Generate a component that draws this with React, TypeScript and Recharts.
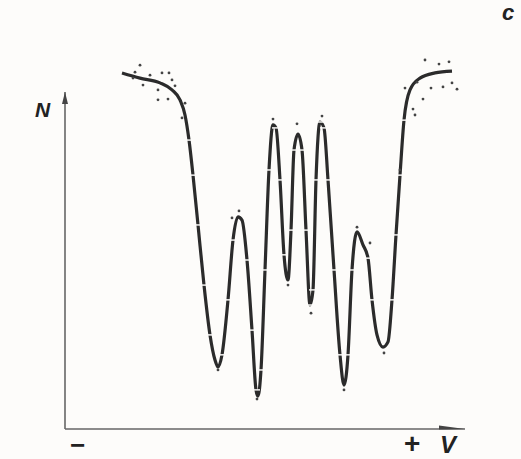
import { ComposedChart, Line, Scatter, XAxis, YAxis, ReferenceLine } from 'recharts';

// fitted curve: velocity (arbitrary units, -10..10) vs counts N (0..100)
const velocity = [
  -7.15, -6.25, -5.25, -4.65, -4.25, -4.0, -3.8, -3.6, -3.35, -3.05, -2.75, -2.5, -2.35, -2.15, -1.85, -1.6,
  -1.35, -1.15, -0.9, -0.65, -0.45, -0.35, -0.2, 0, 0.2, 0.4, 0.55, 0.75, 0.95, 1.15, 1.3, 1.45, 1.65, 1.85,
  2.05, 2.25, 2.4, 2.55, 2.75, 2.95, 3.15, 3.45, 3.75, 3.95, 4.15, 4.35, 4.6, 4.9, 5.15, 5.35, 5.6, 5.9, 6.15,
  6.35, 6.55, 6.75, 6.95, 7.25, 7.75, 8.5, 9.35,
];
const counts = [
  96.5, 95.1, 93.8, 91.9, 89.2, 85.1, 78.3, 68.8, 55.3, 39.0, 25.5, 18.7, 16.8, 20.1, 35.0, 51.2,
  57.5, 56.6, 45.8, 26.8, 10.6, 8.9, 16.0, 43.1, 70.2, 82.4, 81.6, 67.5, 47.2, 40.4, 53.9, 75.6, 79.9, 75.6,
  53.9, 33.6, 37.7, 67.5, 83.2, 81.6, 67.5, 43.1, 20.1, 11.9, 20.1, 43.1, 53.4, 49.9, 46.3, 35.0, 25.5, 22.2, 23.6,
  35.0, 52.6, 68.8, 83.7, 91.9, 95.1, 96.5, 97.0,
];

// measured points (scatter)
const pointV = [
  -6.25, -6.5, -6.6, -5.75, -5.15, -4.8, -6.1, -5.35, -4.65, -4.5, -5.35, -4.85, -4.15, -4.0,
  8.0, 8.7, 9.2, 7.6, 7.0, 8.3, 8.9, 9.6, 9.35, 7.9, 7.4, 7.5,
  0.4, 1.6, 2.85, -1.3, -1.65, 4.6, 5.25, 5.95, -0.4, 3.95, 2.3, 1.15, -2.35, 6.75,
];
const pointN = [
  98.6, 96.7, 95.1, 95.9, 96.5, 96.5, 93.2, 91.9, 94.6, 93.0, 89.2, 89.4, 84.3, 88.3,
  100, 98.9, 99.5, 94.0, 92.4, 92.4, 92.7, 92.1, 93.8, 89.4, 86.7, 85.1,
  84.0, 82.7, 84.8, 59.1, 57.2, 54.7, 50.4, 20.6, 8.1, 10.6, 31.4, 39.0, 16.0, 70.2,
];

const curve = velocity.map((v, i) => ({ v, n: counts[i] }));
const points = pointV.map((v, i) => ({ v, n: pointN[i] }));

const INK = '#2b2b2b';

function AxisArrow(props: any) {
  const { x1, y1, x2, y2, vertical } = props;
  const head = vertical
    ? `${x2 - 3},${y2 + 12} ${x2},${y2} ${x2 + 3},${y2 + 12}`
    : `${x2 - 26},${y2 - 3.5} ${x2},${y2} ${x2 - 26},${y2 + 0.5}`;
  return (
    <g>
      <line x1={x1} y1={y1} x2={x2} y2={y2} stroke="#666" strokeWidth={1.6} />
      <polygon points={head} fill="#444" />
    </g>
  );
}

// white nicks across the steep parts of the trace, like the original plot
function Nick(props: any) {
  const { cx, cy, index } = props;
  const prev = counts[index - 1] ?? counts[index];
  const next = counts[index + 1] ?? counts[index];
  if (Math.abs(next - prev) < 14) return <g key={index} />;
  return <rect key={index} x={cx - 4} y={cy - 0.7} width={8} height={1.4} fill="#fdfcfa" />;
}

export default function App() {
  return (
    <div style={{ position: 'absolute', left: 0, top: 0, width: 521, height: 459, background: '#fdfcfa', fontFamily: 'Liberation Sans, Arial, sans-serif' }}>
      <ComposedChart width={521} height={459} margin={{ top: 60, right: 56, bottom: 30, left: 65 }}>
        <XAxis type="number" dataKey="v" domain={[-10, 10]} hide />
        <YAxis type="number" dataKey="n" domain={[0, 100]} hide />
        <ReferenceLine segment={[{ x: -10, y: 0 }, { x: -10, y: 91.3 }]} shape={(p: any) => <AxisArrow {...p} vertical />} />
        <ReferenceLine segment={[{ x: -10, y: 0 }, { x: 10, y: 0 }]} shape={(p: any) => <AxisArrow {...p} />} />
        <Line data={curve} dataKey="n" type="monotone" stroke={INK} strokeWidth={3.2} dot={<Nick />} isAnimationActive={false} />
        <Scatter data={points} dataKey="n" fill="#444" shape={(p: any) => <circle cx={p.cx} cy={p.cy} r={1.4} fill="#444" />} isAnimationActive={false} />
      </ComposedChart>
      <div style={{ position: 'absolute', left: 35, top: 98, fontSize: 21, fontWeight: 'bold', fontStyle: 'italic', color: '#222' }}>N</div>
      <div style={{ position: 'absolute', left: 70, top: 430, fontSize: 26, fontWeight: 'bold', color: '#222' }}>−</div>
      <div style={{ position: 'absolute', left: 404, top: 428, fontSize: 28, fontWeight: 'bold', color: '#222' }}>+</div>
      <div style={{ position: 'absolute', left: 440, top: 431, fontSize: 24, fontWeight: 'bold', fontStyle: 'italic', color: '#222' }}>V</div>
      <div style={{ position: 'absolute', left: 502, top: 0, fontSize: 22, fontWeight: 'bold', fontStyle: 'italic', color: '#222' }}>c</div>
    </div>
  );
}
